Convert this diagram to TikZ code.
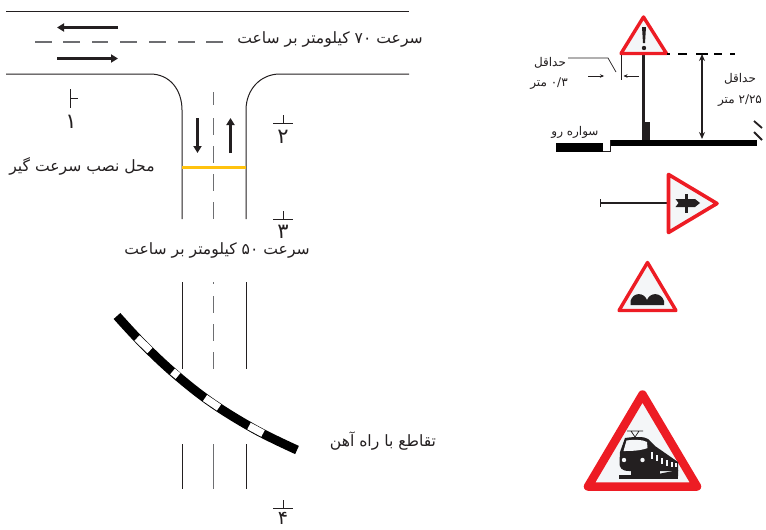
\documentclass[tikz,border=0pt]{standalone}
\usepackage{fontspec}
\usetikzlibrary{arrows.meta}
\TeXXeTstate=1
\newfontfamily\arabicfont[Script=Arabic]{DejaVu Sans}
\newcommand{\fa}[1]{\arabicfont\beginR #1\endR}
\newcommand{\nm}[1]{\beginL #1\endL{}}
\definecolor{signred}{HTML}{ED1C24}
\definecolor{signfill}{HTML}{F4F6F8}
\definecolor{ink}{HTML}{231F20}
\definecolor{dashgray}{HTML}{6D6E71}
\definecolor{stripe}{HTML}{FFC20E}
\tikzset{
  roadline/.style={draw=ink,line width=1pt},
  centerline/.style={draw=dashgray,line width=1pt},
  bigarrow/.style={draw=ink,line width=2.4pt,-{Stealth[length=7pt,width=8pt,inset=0pt]}},
  smallarrow/.style={draw=ink,line width=0.5pt,-{Stealth[length=4pt,width=3.5pt]}},
  sign/.style={draw=signred,fill=signfill,line join=round},
  lab/.style={text=ink,inner sep=0pt,font=\fontsize{15.6}{18}\selectfont},
  smalllab/.style={text=ink,inner sep=0pt,font=\fontsize{12}{14}\selectfont},
  digit/.style={text=ink,inner sep=0pt,font=\fontsize{21}{23}\selectfont},
  solid ink/.style={fill=ink,draw=none},
}
\begin{document}
\begin{tikzpicture}[x=1pt,y=-1pt]
\useasboundingbox (0,0) rectangle (766,530);
% top road
\draw[roadline] (6,11.5) -- (409,11.5);
\draw[centerline,line width=1.2pt] (35,42) -- (52,42) (63,42) -- (80,42) (92,42) -- (108,42) (120,42) -- (137,42) (149,42) -- (166,42) (178,42) -- (195,42) (206,42) -- (223,42);
\coordinate (a1) at (118,27.5); \coordinate (a2) at (57,27.5);
\coordinate (a3) at (57,58.5); \coordinate (a4) at (118,58.5);
\draw[bigarrow] (a1) -- (a2);
\draw[bigarrow] (a3) -- (a4);
\draw[roadline] (6,74) -- (150,74) .. controls (170,74) and (182,90) .. (182,110) -- (182,219);
\draw[roadline] (409,74) -- (280,74) .. controls (260,74) and (246,90) .. (246,110) -- (246,219);
\draw[centerline] (213.5,92) -- (213.5,105) (213.5,118) -- (213.5,135) (213.5,146) -- (213.5,163) (213.5,174) -- (213.5,191) (213.5,202) -- (213.5,219);
\coordinate (b1) at (197.5,118); \coordinate (b2) at (197.5,153);
\coordinate (b3) at (230.5,153); \coordinate (b4) at (230.5,118);
\draw[bigarrow] (b1) -- (b2);
\draw[bigarrow] (b3) -- (b4);
\draw[draw=stripe,line width=3pt] (182,167.5) -- (246,167.5);
% lower road
\draw[roadline] (182,282) -- (182,369) (246,282) -- (246,369);
\draw[centerline] (213.5,282) -- (213.5,284) (213.5,296) -- (213.5,313) (213.5,324) -- (213.5,341) (213.5,352) -- (213.5,369);
\draw[roadline] (182,444) -- (182,489) (246,444) -- (246,489);
\draw[centerline] (213.5,444) -- (213.5,489);
% rail
\draw[draw=black,line width=9pt] plot[smooth,tension=0.6] coordinates {(117,316) (143,344) (175,374) (212,403) (256,430) (297,450)};
\foreach \sx/\sy/\ex/\ey in {137/338/150/350.5, 172.5/371.5/178/376, 205/398/219/407.5, 249/426/263/433.5}{
  \draw[draw=white,line width=7.4pt] (\sx,\sy) -- (\ex,\ey);
}
% section marks
\draw[roadline] (70,89) -- (70,108) (70,98) -- (78,98);
\node[digit] (n1) at (71,122) {\fa{\nm{۱}}};
\draw[roadline] (273,123.5) -- (293,123.5) (283,115) -- (283,123.5);
\node[digit] (n2) at (283,137) {\fa{\nm{۲}}};
\draw[roadline] (273,219) -- (293,219) (283,211) -- (283,219);
\node[digit] (n3) at (283,232) {\fa{\nm{۳}}};
\draw[roadline] (273,508) -- (293,508) (283,500) -- (283,508);
\node[digit,font=\fontsize{19}{21}\selectfont] (n4) at (283,518.5) {\fa{\nm{۴}}};
% road labels
\node[lab] (t70) at (330,39) {\fa{سرعت \nm{۷۰} کیلومتر بر ساعت}};
\node[lab] (tpos) at (82,166) {\fa{محل نصب سرعت گیر}};
\node[lab] (t50) at (217,250) {\fa{سرعت \nm{۵۰} کیلومتر بر ساعت}};
\node[lab] (train) at (383,441) {\fa{تقاطع با راه آهن}};
% pole sign
\draw[solid ink] (642.3,54) rectangle (644.7,122);
\draw[solid ink] (642,122) rectangle (650,140);
\draw[sign,line width=3.4pt] (643.5,17) -- (666.5,53.5) -- (621,53.5) -- cycle;
\fill[ink] (642,27) -- (646,27) -- (645,43) -- (643,43) -- cycle;
\fill[ink] (644,48) circle (2.2pt);
\fill[black] (610,139.5) rectangle (757,146);
\fill[black] (556,143) rectangle (603,152);
\draw[draw=ink,line width=0.5pt] (603,151.5) -- (610,151.5) -- (610,140);
\draw[draw=ink,line width=1.8pt] (754,121) -- (762,128) (754,132) -- (762,140);
\draw[draw=black,line width=2pt] (667,53.5) -- (670,53.5) (678,53.5) -- (687,53.5) (696,53.5) -- (708,53.5) (714,53.5) -- (722,53.5) (730,53.5) -- (735,53.5);
\coordinate (h1) at (702,54); \coordinate (h2) at (702,139);
\draw[draw=ink,line width=1.3pt,{Stealth[length=7pt,width=6pt]}-{Stealth[length=7pt,width=6pt]}] (h1) -- (h2);
\draw[draw=ink,line width=0.7pt] (568,58) -- (608,58) -- (616,72);
\draw[draw=ink,line width=0.7pt] (621,55) -- (621,80);
\coordinate (c1) at (588,76); \coordinate (c2) at (604,76);
\coordinate (c3) at (639,76); \coordinate (c4) at (623.5,76);
\draw[smallarrow] (c1) -- (c2);
\draw[smallarrow] (c3) -- (c4);
\node[smalllab] (l1) at (550,63) {\fa{حداقل}};
\node[smalllab] (l2) at (549,84) {\fa{\nm{۰/۳} متر}};
\node[smalllab] (r1) at (740,79) {\fa{حداقل}};
\node[smalllab] (r2) at (740,101) {\fa{\nm{۲/۲۵} متر}};
\node[smalllab] (sw) at (575,132) {\fa{سواره رو}};
% side-view sign
\draw[draw=ink,line width=1.3pt] (600.5,199) -- (600.5,207) (600.5,203) -- (668,203);
\draw[sign,line width=3.6pt] (668.5,174.5) -- (717,203.5) -- (668.5,232.5) -- cycle;
\fill[ink] (675.5,199) -- (695,199) -- (700,203) -- (695,207) -- (675.5,207) -- (678.5,203) -- cycle;
\fill[ink] (685,194) rectangle (687.5,213);
% bump sign
\draw[sign,line width=3.4pt] (647.5,262.5) -- (676,310.5) -- (619,310.5) -- cycle;
\fill[ink] (630.5,305) -- (630.5,301) .. controls (633,292) and (644,292) .. (647,300) .. controls (650,292) and (661,292) .. (664,301) -- (664,305) -- cycle;
% train sign
\draw[sign,line width=8.5pt] (642.5,394.5) -- (697,486.5) -- (588,486.5) -- cycle;
\draw[draw=ink,line width=0.7pt] (627,431) -- (643,431) (631,431) -- (635,437) -- (639,431) (635,437) -- (635,438);
\fill[ink] (620,452) -- (625,438) .. controls (635,436.5) and (645,436.5) .. (648,439) -- (655,446) -- (678,462) -- (678,471) -- (629,471) .. controls (622,471) and (619,468) .. (619.5,462) -- cycle;
\fill[signfill] (623.5,451) -- (626.5,440.5) .. controls (633,439.5) and (643,439.5) .. (647,442) -- (647.5,448) .. controls (640,451) and (630,451) .. (623.5,451) -- cycle;
\foreach \wx/\wa/\wb in {652/452/459, 657/455/461, 662/458/464, 667/460/466, 672/462/467, 676/463/467}{
  \draw[draw=signfill,line width=1.8pt] (\wx,\wa) -- (\wx,\wb);
}
\fill[signfill] (624,460) circle (2.2pt) (642.5,460) circle (2.2pt);
\fill[ink] (619,475) rectangle (678,479);
\fill[ink] (631,470) rectangle (660,476);
\fill[ink] (648,476) -- (678,470) -- (678,476) -- cycle;
\end{tikzpicture}
\end{document}
